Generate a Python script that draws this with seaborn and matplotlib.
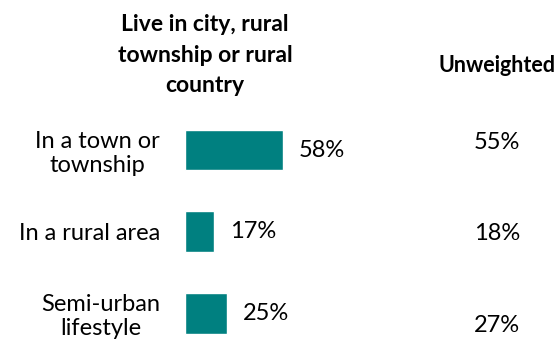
import pandas as pd
import matplotlib.pyplot as plt
import seaborn as sns

# Chart data
categories = ['In a town or\ntownship', 'In a rural area', 'Semi-urban\nlifestyle']
weighted = [58, 17, 25]
unweighted = [55, 18, 27]
title = 'Live in city, rural\ntownship or rural\ncountry'

df = pd.DataFrame({'Category': categories, 'Percent': weighted})

sns.set_style('white')
plt.rcParams['font.family'] = ['Lato', 'DejaVu Sans']
plt.rcParams['text.color'] = 'black'
plt.rcParams['ytick.color'] = 'black'

fig = plt.figure(figsize=(5.54, 3.39), dpi=100)
ax = fig.add_axes([185 / 554, 1 - 337.7 / 339, 169 / 554, (337.7 - 109.25) / 339])

sns.barplot(data=df, x='Percent', y='Category', color='#008080', saturation=1,
            width=0.5, ax=ax)

ax.set_xlim(0, 100)
ax.set_ylim(2.3, -0.5)
ax.set_xlabel('')
ax.set_ylabel('')
ax.set_xticks([])
sns.despine(ax=ax, left=True, bottom=True)
ax.tick_params(axis='y', length=0, pad=18, labelsize=17)
for lbl in ax.get_yticklabels():
    lbl.set_multialignment('center')
    lbl.set_linespacing(1.15)

# value labels next to bars
for i, v in enumerate(weighted):
    ax.annotate(f'{v}%', (v, i), xytext=(11.5, 0), textcoords='offset points',
                ha='left', va='center', fontsize=17)

# unweighted column (slightly staggered like the original)
nudge = [-8, 1.5, 12]
for i, v in enumerate(unweighted):
    ax.annotate(f'{v}%', (0, i), xycoords=('figure pixels', 'data'),
                xytext=(497, -nudge[i] * 0.72), textcoords=('figure pixels', 'offset points'),
                ha='center', va='center', fontsize=17)

fig.text(205 / 554, 1 - 55 / 339, title, ha='center', va='center',
         fontsize=16.5, fontweight='bold', linespacing=1.55)
fig.text(497 / 554, 1 - 65 / 339, 'Unweighted', ha='center', va='center',
         fontsize=15.5, fontweight='bold')

fig.savefig('out.png', dpi=100)
